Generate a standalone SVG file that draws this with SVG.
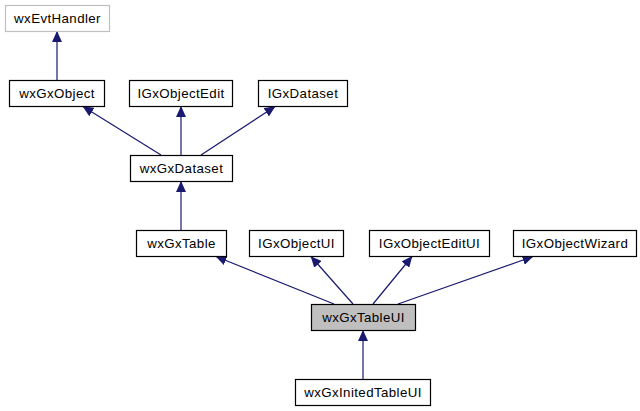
<svg xmlns="http://www.w3.org/2000/svg" width="640" height="411" viewBox="0 0 640 411">
<style>
.box{fill:#ffffff;stroke:#000000;stroke-width:1.2}
.gray{stroke:#bfbfbf}
.cur{fill:#bfbfbf}
.lbl{font-family:"Liberation Sans",Arial,sans-serif;font-size:13.3px;letter-spacing:0.4px;fill:#000000;text-anchor:middle}
.edge{stroke:#191970;stroke-width:1.2;fill:none;marker-end:url(#arr)}
</style>
<defs>
<marker id="arr" markerUnits="userSpaceOnUse" viewBox="0 0 11 10" markerWidth="11" markerHeight="10" refX="10.5" refY="5" orient="auto">
<path d="M0,0 L11,5 L0,10 z" fill="#191970"/>
</marker>
</defs>
<rect width="640" height="411" fill="#ffffff"/>
<g id="connectors">
<line class="edge" x1="57" y1="80" x2="57" y2="31.5"/>
<line class="edge" x1="161" y1="155" x2="83" y2="106.5"/>
<line class="edge" x1="181" y1="155" x2="181" y2="106.5"/>
<line class="edge" x1="201" y1="155" x2="275" y2="106.5"/>
<line class="edge" x1="181" y1="230" x2="181" y2="181.5"/>
<line class="edge" x1="334" y1="304" x2="216" y2="256.5"/>
<line class="edge" x1="353" y1="304" x2="311" y2="256.5"/>
<line class="edge" x1="373" y1="304" x2="412" y2="256.5"/>
<line class="edge" x1="398" y1="304" x2="533" y2="256.5"/>
<line class="edge" x1="363" y1="379" x2="363" y2="330.5"/>
</g>
<g id="wxEvtHandler"><rect class="box gray" x="5.5" y="5.5" width="104" height="26"/><text class="lbl" x="57.5" y="23">wxEvtHandler</text></g>
<g id="wxGxObject"><rect class="box" x="9.5" y="80.5" width="95" height="26"/><text class="lbl" x="57" y="98">wxGxObject</text></g>
<g id="IGxObjectEdit"><rect class="box" x="129.5" y="80.5" width="103" height="26"/><text class="lbl" x="181" y="98">IGxObjectEdit</text></g>
<g id="IGxDataset"><rect class="box" x="258.5" y="80.5" width="89" height="26"/><text class="lbl" x="303" y="98">IGxDataset</text></g>
<g id="wxGxDataset"><rect class="box" x="130.5" y="155.5" width="102" height="26"/><text class="lbl" x="181.5" y="173">wxGxDataset</text></g>
<g id="wxGxTable"><rect class="box" x="136.5" y="230.5" width="90" height="26"/><text class="lbl" x="181.5" y="248">wxGxTable</text></g>
<g id="IGxObjectUI"><rect class="box" x="249.5" y="230.5" width="94" height="26"/><text class="lbl" x="296.5" y="248">IGxObjectUI</text></g>
<g id="IGxObjectEditUI"><rect class="box" x="369.5" y="230.5" width="120" height="26"/><text class="lbl" x="429.5" y="248">IGxObjectEditUI</text></g>
<g id="IGxObjectWizard"><rect class="box" x="513.5" y="230.5" width="123" height="26"/><text class="lbl" x="575" y="248">IGxObjectWizard</text></g>
<g id="wxGxTableUI"><rect class="box cur" x="311.5" y="304.5" width="104" height="26"/><text class="lbl" x="363.5" y="322">wxGxTableUI</text></g>
<g id="wxGxInitedTableUI"><rect class="box" x="295.5" y="379.5" width="135" height="26"/><text class="lbl" x="363" y="397">wxGxInitedTableUI</text></g>
</svg>
